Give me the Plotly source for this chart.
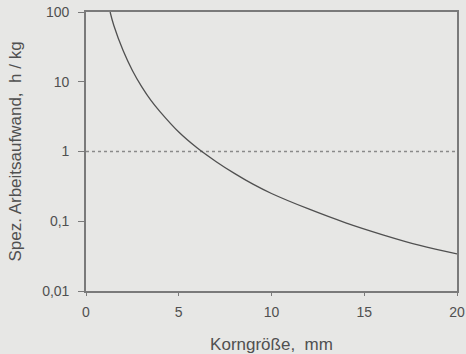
import plotly.graph_objects as go

# Curve values
korn = [1.3, 1.5, 2, 2.5, 3, 3.5, 4, 5, 6, 7, 8, 9, 10, 12, 14, 16, 18, 20]
aufwand = [100, 64, 28, 14.5, 8.5, 5.4, 3.7, 1.9, 1.12, 0.72, 0.485, 0.34, 0.25,
           0.15, 0.095, 0.064, 0.045, 0.034]

ref_x = [0, 20]
ref_y = [1, 1]

x_ticks = [0, 5, 10, 15, 20]
y_tickvals = [0.01, 0.1, 1, 10, 100]
y_ticktext = ["0,01", "0,1", "1", "10", "100"]

bg = "#e7e7e5"
axis_col = "#7a7a7a"
text_col = "#505050"

fig = go.Figure()
fig.add_trace(go.Scatter(x=ref_x, y=ref_y, mode="lines",
                         line=dict(color="#8a8a8a", width=1.6, dash="dot"),
                         hoverinfo="skip"))
fig.add_trace(go.Scatter(x=korn, y=aufwand, mode="lines",
                         line=dict(color="#505050", width=1.3, shape="spline")))

fam = "Liberation Sans, Arial, sans-serif"
font = dict(family=fam, size=14, color=text_col)
title_font = dict(family=fam, size=17, color=text_col)

fig.update_layout(
    width=466, height=354,
    margin=dict(l=86, r=9, t=12, b=63, autoexpand=False),
    paper_bgcolor=bg, plot_bgcolor=bg,
    showlegend=False,
    font=font,
    xaxis=dict(range=[0, 20], tickvals=x_ticks, showgrid=False, zeroline=False,
               automargin=False,
               showline=True, linecolor=axis_col, linewidth=1.6, mirror=True,
               ticks="outside", ticklen=3, tickcolor=axis_col, tickwidth=1,
               ticklabelstandoff=4,
               title=dict(text="Korngröße,  mm", standoff=23, font=title_font),
               tickfont=font),
    yaxis=dict(type="log", range=[-2, 2], tickvals=y_tickvals, ticktext=y_ticktext,
               showgrid=False, zeroline=False, automargin=False,
               showline=True, linecolor=axis_col, linewidth=1.6, mirror=True,
               ticks="outside", ticklen=6, tickcolor=axis_col, tickwidth=1,
               ticklabelstandoff=6,
               title=dict(text="Spez. Arbeitsaufwand,  h / kg", standoff=16,
                          font=title_font),
               tickfont=font),
)

fig.write_html("out.html",
               config={"displayModeBar": False},
               post_script="document.body.style.margin='0';"
                           "document.body.style.background='%s';" % bg)
